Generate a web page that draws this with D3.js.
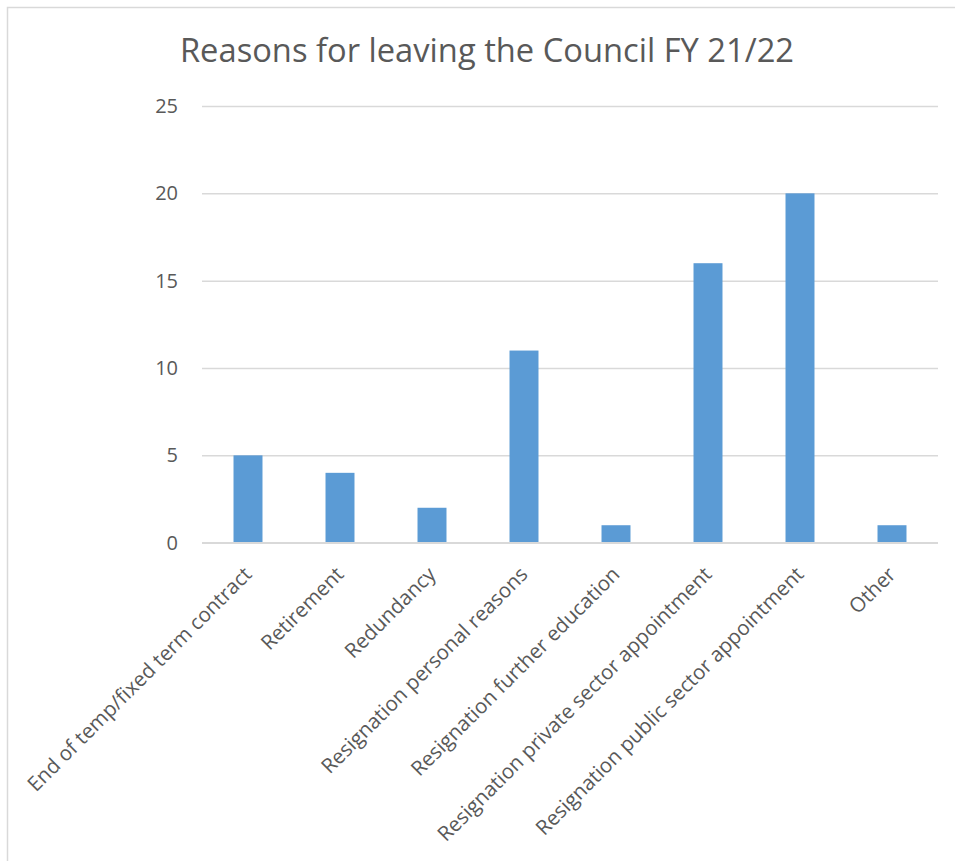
<!DOCTYPE html>
<html>
<head>
<meta charset="utf-8">
<script src="https://cdn.jsdelivr.net/npm/d3@7"></script>
<style>
  html, body { margin: 0; padding: 0; background: #fff; }
  svg { display: block; }
  text { font-family: "Open Sans", "Segoe UI", sans-serif; fill: #595959; }
</style>
</head>
<body>
<svg id="chart" width="955" height="861"></svg>
<script>
const categories = [
  "End of temp/fixed term contract",
  "Retirement",
  "Redundancy",
  "Resignation personal reasons",
  "Resignation further education",
  "Resignation private sector appointment",
  "Resignation public sector appointment",
  "Other"
];
const values = [5, 4, 2, 11, 1, 16, 20, 1];
const yTicks = [0, 5, 10, 15, 20, 25];
const title = "Reasons for leaving the Council FY 21/22";

const svg = d3.select("#chart");

// outer border
svg.append("rect")
  .attr("x", 7.5).attr("y", 7.5)
  .attr("width", 970).attr("height", 880)
  .attr("fill", "none").attr("stroke", "#d9d9d9").attr("stroke-width", 1.5);

const plotLeft = 202, plotRight = 938, plotTop = 106, plotBottom = 542.7;

const x = d3.scaleBand().domain(categories).range([plotLeft, plotRight])
  .paddingInner(0.685).paddingOuter(0.3425);
const y = d3.scaleLinear().domain([0, 25]).range([plotBottom, plotTop]);

// title
svg.append("text")
  .attr("x", 487).attr("y", 62)
  .attr("text-anchor", "middle")
  .style("font-size", "32.7px")
  .text(title);

// gridlines + y labels
const yAxis = d3.axisLeft(y).tickValues(yTicks).tickSize(-(plotRight - plotLeft)).tickPadding(24);
const gy = svg.append("g").attr("transform", `translate(${plotLeft},0)`).call(yAxis);
gy.select(".domain").remove();
gy.selectAll(".tick line").attr("stroke", "#d9d9d9").attr("stroke-width", 1.5);
gy.selectAll(".tick text")
  .style("font-size", "20px")
  .style("font-family", "'Open Sans', sans-serif")
  .attr("fill", "#595959");

// bars
svg.append("g").selectAll("rect")
  .data(categories)
  .join("rect")
  .attr("x", d => x(d))
  .attr("width", x.bandwidth())
  .attr("y", (d, i) => y(values[i]))
  .attr("height", (d, i) => y(0) - y(values[i]))
  .attr("fill", "#5b9bd5");

// re-draw baseline over bars
svg.append("line")
  .attr("x1", plotLeft).attr("x2", plotRight)
  .attr("y1", y(0)).attr("y2", y(0))
  .attr("stroke", "#d9d9d9").attr("stroke-width", 1.5);

// x axis category labels
const xAxis = d3.axisBottom(x).tickSize(0).tickPadding(0);
const gx = svg.append("g").attr("transform", `translate(0,${plotBottom})`).call(xAxis);
gx.select(".domain").remove();
gx.selectAll(".tick text")
  .style("font-size", "20.5px")
  .style("font-family", "'Open Sans', sans-serif")
  .attr("fill", "#595959")
  .attr("text-anchor", "end")
  .attr("dy", "0")
  .attr("transform", "translate(5,33) rotate(-45)");
</script>
</body>
</html>
